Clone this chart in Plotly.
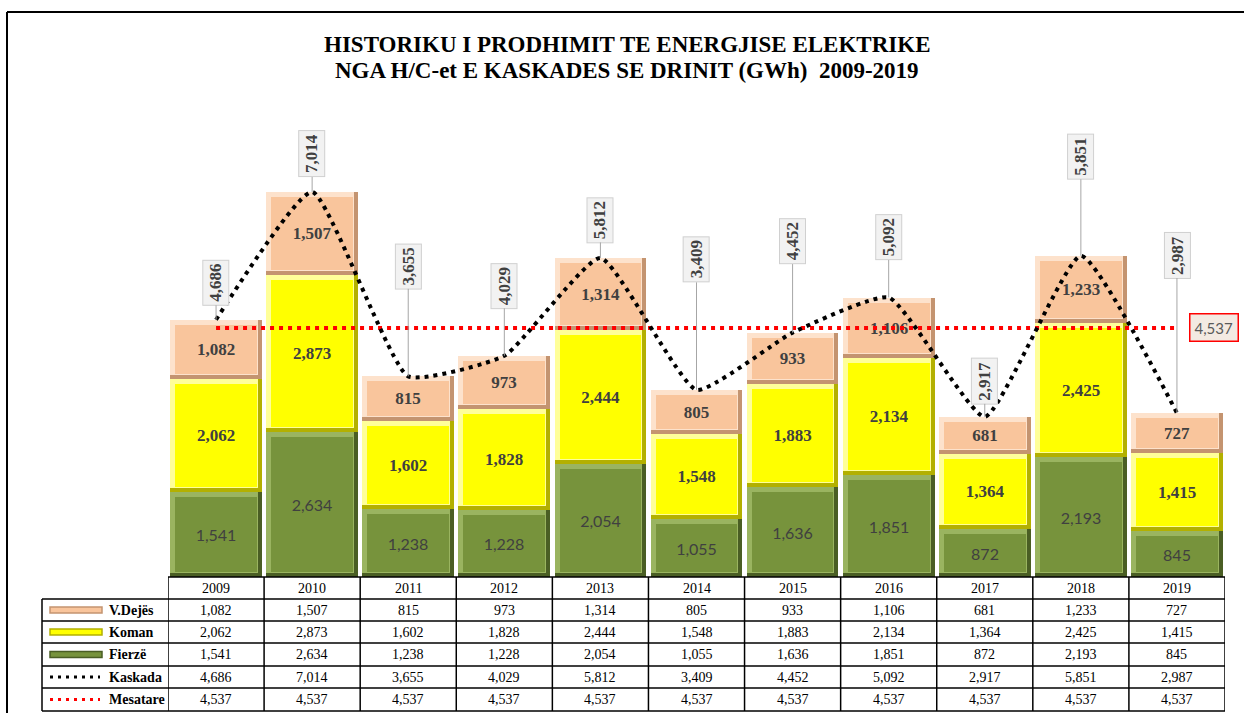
import plotly.graph_objects as go

# ---------------- data ----------------
years = ['2009', '2010', '2011', '2012', '2013', '2014', '2015', '2016', '2017', '2018', '2019']
v_dejes = [1082, 1507, 815, 973, 1314, 805, 933, 1106, 681, 1233, 727]
koman = [2062, 2873, 1602, 1828, 2444, 1548, 1883, 2134, 1364, 2425, 1415]
fierze = [1541, 2634, 1238, 1228, 2054, 1055, 1636, 1851, 872, 2193, 845]
kaskada = [4686, 7014, 3655, 4029, 5812, 3409, 4452, 5092, 2917, 5851, 2987]
mesatare = [4537] * 11
series_names = ['V.Dejës', 'Koman', 'Fierzë', 'Kaskada', 'Mesatare']
title_lines = ['HISTORIKU I PRODHIMIT TE ENERGJISE ELEKTRIKE',
               'NGA H/C-et E KASKADES SE DRINIT (GWh)  2009-2019']

xs = [int(y) for y in years]  # numeric year positions on a linear axis

# ---------------- layout helpers ----------------
W, H = 1244, 713
PLOT_L, PLOT_R = 168, 1225
PLOT_TOP, PLOT_BOT = 100, 577
PX_PER_UNIT = 0.0549
Y_MAX = (PLOT_BOT - PLOT_TOP) / PX_PER_UNIT


def pxx(x):
    return x / W


def pxy(y):
    return (H - y) / H


SERIF = 'Liberation Serif'
SANS = 'Lato'
TXT = '#404040'

BAR_W = 0.955
INSET_X = 5 / ((PLOT_R - PLOT_L) / len(years))
INSET_Y = 5 / PX_PER_UNIT

styles = {
    'V.Dejës': dict(face='#F9C59C', dark='#C49470', light='#FDE2CC',
                    font=dict(family=SERIF, size=17, color=TXT), bold=True),
    'Koman': dict(face='#FFFF00', dark='#B3B000', light='#FFFF99',
                  font=dict(family=SERIF, size=17, color=TXT), bold=True),
    'Fierzë': dict(face='#77933C', dark='#4A5E24', light='#9AB460',
                   font=dict(family=SANS, size=16, color=TXT), bold=False),
}

fig = go.Figure()

stack = [('Fierzë', fierze), ('Koman', koman), ('V.Dejës', v_dejes)]
bottoms = [0] * len(years)
dark_tr, light_tr, face_tr = [], [], []
for name, vals in stack:
    st = styles[name]
    common = dict(x=xs, name=name, showlegend=False, hoverinfo='skip')
    dark_tr.append(go.Bar(y=vals, base=bottoms, width=BAR_W, offset=-BAR_W / 2,
                          marker=dict(color=st['dark'], line=dict(width=0)), **common))
    light_tr.append(go.Bar(y=[v - INSET_Y * 0.8 for v in vals], base=[b + INSET_Y * 0.8 for b in bottoms],
                           width=BAR_W - INSET_X * 0.8, offset=-BAR_W / 2,
                           marker=dict(color=st['light'], line=dict(width=0)), **common))
    labels = [(f'<b>{v:,}</b>' if st['bold'] else f'{v:,}') for v in vals]
    face_tr.append(go.Bar(
        y=[v - 2 * INSET_Y for v in vals], base=[b + INSET_Y for b in bottoms],
        width=BAR_W - 2 * INSET_X, offset=-BAR_W / 2 + INSET_X,
        marker=dict(color=st['face'], line=dict(width=0)),
        text=labels, textposition='inside', insidetextanchor='middle',
        constraintext='none', textfont=st['font'], **common))
    bottoms = [b + v for b, v in zip(bottoms, vals)]

for t in dark_tr + light_tr + face_tr:
    fig.add_trace(t)

fig.add_trace(go.Scatter(
    x=xs, y=mesatare, mode='lines', name='Mesatare',
    line=dict(color='#FF0000', width=4, dash='4px,5px'), showlegend=False, hoverinfo='skip'))
fig.add_trace(go.Scatter(
    x=xs, y=kaskada, mode='lines', name='Kaskada',
    line=dict(color='#000000', width=4, dash='4px,5px', shape='spline', smoothing=0.45),
    showlegend=False, hoverinfo='skip'))

annotations = []
# Kaskada labels (rotated, boxed)
label_offsets_px = [-37, -38, -110, -70, -38, -130, -91, -60, -36, -99, -158]
for xv, v, off in zip(xs, kaskada, label_offsets_px):
    annotations.append(dict(
        x=xv, y=v, xref='x', yref='y', text=f'<b>{v:,}</b>', textangle=-90,
        showarrow=True, arrowhead=0, arrowwidth=1, arrowcolor='#A6A6A6', ax=0, ay=off,
        bgcolor='#F2F2F2', bordercolor='#D0D0D0', borderwidth=1, borderpad=3,
        font=dict(family=SERIF, size=17, color=TXT)))

# Mesatare label
annotations.append(dict(
    x=xs[-1], y=mesatare[-1], xref='x', yref='y', text=f'{mesatare[-1]:,}',
    showarrow=False, xshift=37, bgcolor='#F3EAE2', bordercolor='#FF0000', borderwidth=1.5,
    borderpad=4, font=dict(family=SANS, size=15, color='#595959')))

# Title (two lines)
for line, ypx in zip(title_lines, [44, 71]):
    annotations.append(dict(
        x=pxx(627), y=pxy(ypx), xref='paper', yref='paper', xanchor='center', yanchor='middle',
        showarrow=False, text=f'<b>{line}</b>',
        font=dict(family=SERIF, size=23, color='#000000')))

# ---------------- data table ----------------
row_edges = [577, 599, 621, 643, 666, 688, 711]
row_centers = [(a + b) / 2 for a, b in zip(row_edges[:-1], row_edges[1:])]
TBL_LEFT = 42

shapes = []
line_style = dict(color='#000000', width=1.5)
for i, ye in enumerate(row_edges):
    x0 = pxx(PLOT_L) if i == 0 else pxx(TBL_LEFT)
    shapes.append(dict(type='line', xref='paper', yref='paper', x0=x0, x1=pxx(PLOT_R),
                       y0=pxy(ye), y1=pxy(ye), line=line_style))
shapes.append(dict(type='line', xref='paper', yref='paper', x0=pxx(TBL_LEFT), x1=pxx(TBL_LEFT),
                   y0=pxy(row_edges[1]), y1=pxy(row_edges[-1]), line=line_style))
for xv in xs + [xs[-1] + 1]:
    shapes.append(dict(type='line', xref='x', yref='paper', x0=xv - 0.5, x1=xv - 0.5,
                       y0=pxy(row_edges[0]), y1=pxy(row_edges[-1]), line=line_style))

rows = [v_dejes, koman, fierze, kaskada, mesatare]
tfont = dict(family=SERIF, size=14, color='#000000')
for xv, yr in zip(xs, years):
    annotations.append(dict(x=xv, y=pxy(row_centers[0]), xref='x', yref='paper',
                            xanchor='center', yanchor='middle',
                            text=yr, showarrow=False, font=tfont))
for r, vals in enumerate(rows):
    for xv, v in zip(xs, vals):
        annotations.append(dict(x=xv, y=pxy(row_centers[r + 1]), xref='x', yref='paper',
                                xanchor='center', yanchor='middle',
                                text=f'{v:,}', showarrow=False, font=tfont))

for r, name in enumerate(series_names):
    yc = row_centers[r + 1]
    if name in styles:
        st = styles[name]
        shapes.append(dict(type='rect', xref='paper', yref='paper',
                           x0=pxx(50), x1=pxx(102), y0=pxy(yc + 3), y1=pxy(yc - 3),
                           fillcolor=st['face'], line=dict(color=st['dark'], width=1.5)))
    else:
        col = '#000000' if name == 'Kaskada' else '#FF0000'
        shapes.append(dict(type='line', xref='paper', yref='paper',
                           x0=pxx(50), x1=pxx(100), y0=pxy(yc), y1=pxy(yc),
                           line=dict(color=col, width=3, dash='3px,5px')))
    annotations.append(dict(x=pxx(107), y=pxy(yc), xref='paper', yref='paper',
                            xanchor='left', yanchor='middle',
                            text=f'<b>{name}</b>', showarrow=False,
                            font=dict(family=SERIF, size=14, color='#000000')))

# outer border (top & left)
shapes.append(dict(type='line', xref='paper', yref='paper', x0=pxx(7), x1=1.0,
                   y0=pxy(12), y1=pxy(12), line=dict(color='#000000', width=2)))
shapes.append(dict(type='line', xref='paper', yref='paper', x0=pxx(7), x1=pxx(7),
                   y0=pxy(12), y1=0, line=dict(color='#000000', width=2)))

fig.update_layout(
    width=W, height=H,
    margin=dict(l=0, r=0, t=0, b=0),
    paper_bgcolor='white', plot_bgcolor='white',
    barmode='overlay', bargap=0,
    showlegend=False,
    xaxis=dict(type='linear', domain=[pxx(PLOT_L), pxx(PLOT_R)], range=[xs[0] - 0.5, xs[-1] + 0.5],
               showticklabels=False, showgrid=False, zeroline=False, showline=False, ticks=''),
    yaxis=dict(domain=[pxy(PLOT_BOT), pxy(PLOT_TOP)], range=[0, Y_MAX],
               showticklabels=False, showgrid=False, zeroline=False, showline=False, ticks=''),
    annotations=annotations,
    shapes=shapes,
)

fig.write_html('out.html', config={'displayModeBar': False},
               post_script="document.body.style.margin='0px';")
